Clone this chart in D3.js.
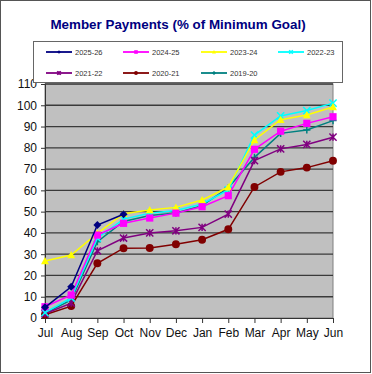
<!DOCTYPE html>
<html>
<head>
<meta charset="utf-8">
<script src="https://cdn.jsdelivr.net/npm/d3@7"></script>
<style>
  body { margin: 0; background: #fff; }
  svg { display: block; font-family: Arial, "Liberation Sans", sans-serif; }
</style>
</head>
<body>
<div id="main"></div>
<script>
const months = ['Jul','Aug','Sep','Oct','Nov','Dec','Jan','Feb','Mar','Apr','May','Jun']
const yTicks = [0,10,20,30,40,50,60,70,80,90,100,110]

const s2025 = [5, 14.7, 43.7, 48.8, null, null, null, null, null, null, null, null]
const s2024 = [5.3, 10.8, 39, 44.5, 47, 49.3, 52.3, 57.5, 79.3, 87.8, 91.5, 94.6]
const s2023 = [26.8, 29.6, 39.8, 49, 50.8, 52, 55.5, 61.5, 83.7, 93.2, 95.4, 99.2]
const s2022 = [2.5, 9.4, 37.5, 46.5, 49.2, 50.5, 53.6, 60.2, 86, 95, 97.5, 101]
const s2021 = [2, 7, 31.6, 37.6, 40, 41, 42.6, 48.8, 74, 79.5, 81.6, 85]
const s2020 = [1.5, 5.6, 25.7, 32.8, 32.9, 34.7, 36.8, 41.7, 61.6, 68.7, 70.7, 73.9]
const s2019 = [2.2, 8.5, 35.9, 45.4, 48.2, 49.4, 52.8, 61.2, 75.5, 86.8, 88.4, 92.8]

const series = [
  {name: '2025-26', values: s2025, color: '#000080', marker: 'diamond'},
  {name: '2024-25', values: s2024, color: '#ff00ff', marker: 'square'},
  {name: '2023-24', values: s2023, color: '#ffff00', marker: 'triangle'},
  {name: '2022-23', values: s2022, color: '#00ffff', marker: 'x'},
  {name: '2021-22', values: s2021, color: '#800080', marker: 'star'},
  {name: '2020-21', values: s2020, color: '#800000', marker: 'circle'},
  {name: '2019-20', values: s2019, color: '#008080', marker: 'plus'}
]

const W = 372, H = 374
const svg = d3.select('#main').append('svg').attr('width', W).attr('height', H)

svg.append('rect').attr('x', 0.5).attr('y', 0.5).attr('width', W - 2).attr('height', H - 2)
  .attr('fill', '#fff').attr('stroke', '#555')

svg.append('text').attr('x', 178).attr('y', 29).attr('text-anchor', 'middle')
  .attr('fill', '#000080').attr('font-weight', 'bold').attr('font-size', 13.4)
  .text('Member Payments (% of Minimum Goal)')

const x = d3.scalePoint().domain(months).range([45, 333])
const y = d3.scaleLinear().domain([0, 110]).range([318, 84])

// plot area
svg.append('rect').attr('x', 45).attr('y', y(110)).attr('width', 333 - 45).attr('height', y(0) - y(110))
  .attr('fill', '#c0c0c0').attr('stroke', '#808080')

svg.append('g').selectAll('line').data(yTicks.slice(1)).enter().append('line')
  .attr('x1', 45).attr('x2', 333).attr('y1', d => y(d)).attr('y2', d => y(d))
  .attr('stroke', '#3a3a3a').attr('stroke-width', 1.3)

// axes
const yAxis = svg.append('g').attr('transform', 'translate(45,0)')
  .call(d3.axisLeft(y).tickValues(yTicks).tickSize(4).tickPadding(4))
yAxis.select('.domain').attr('stroke', '#333')
yAxis.selectAll('line').attr('stroke', '#333')
yAxis.selectAll('text').attr('font-size', 12).attr('fill', '#111').attr('font-family', 'Arial, "Liberation Sans", sans-serif')

const xAxis = svg.append('g').attr('transform', 'translate(0,318)')
  .call(d3.axisBottom(x).tickSize(5).tickPadding(5))
xAxis.select('.domain').attr('stroke', '#333')
xAxis.selectAll('line').attr('stroke', '#333')
xAxis.selectAll('text').attr('font-size', 12).attr('fill', '#111').attr('font-family', 'Arial, "Liberation Sans", sans-serif')

function marker(g, type, color, s) {
  if (type === 'diamond') {
    g.append('path').attr('d', `M0,${-s}L${s},0L0,${s}L${-s},0Z`).attr('fill', color)
  } else if (type === 'square') {
    g.append('rect').attr('x', -s).attr('y', -s).attr('width', 2 * s).attr('height', 2 * s).attr('fill', color)
  } else if (type === 'triangle') {
    g.append('path').attr('d', `M0,${-s * 1.1}L${s * 1.1},${s * 0.9}L${-s * 1.1},${s * 0.9}Z`).attr('fill', color)
  } else if (type === 'circle') {
    g.append('circle').attr('r', s * 1.1).attr('fill', color)
  } else if (type === 'x') {
    g.append('path').attr('d', `M${-s},${-s}L${s},${s}M${s},${-s}L${-s},${s}`)
      .attr('stroke', color).attr('stroke-width', 1.5)
  } else if (type === 'star') {
    g.append('path').attr('d', `M${-s},${-s}L${s},${s}M${s},${-s}L${-s},${s}M0,${-s}L0,${s}`)
      .attr('stroke', color).attr('stroke-width', 1.5)
  } else if (type === 'plus') {
    g.append('path').attr('d', `M${-s},0L${s},0M0,${-s}L0,${s}`)
      .attr('stroke', color).attr('stroke-width', 1.5)
  }
}

const line = d3.line()
  .defined(d => d.v !== null)
  .x(d => x(d.m))
  .y(d => y(d.v))

// draw oldest first so current year sits on top
series.slice().reverse().forEach(sr => {
  const pts = sr.values.map((v, i) => ({m: months[i], v: v}))
  svg.append('path').datum(pts).attr('d', line)
    .attr('fill', 'none').attr('stroke', sr.color).attr('stroke-width', 1.5)
  const mg = svg.append('g')
  pts.filter(d => d.v !== null).forEach(d => {
    const g = mg.append('g').attr('transform', `translate(${x(d.m)},${y(d.v)})`)
    marker(g, sr.marker, sr.color, sr.marker === 'diamond' ? 4 : 3.6)
  })
})

// legend
const legend = svg.append('g').attr('id', 'legend')
legend.append('rect').attr('x', 33.5).attr('y', 41.5).attr('width', 309).attr('height', 41)
  .attr('fill', '#fff').attr('stroke', '#666')
const cols = [46, 123, 201, 278], rows = [52, 73]
series.forEach((sr, i) => {
  const lx = cols[i % 4], ly = rows[Math.floor(i / 4)]
  const g = legend.append('g').attr('transform', `translate(${lx},${ly})`)
  g.append('line').attr('x1', 0).attr('x2', 26).attr('y1', 0).attr('y2', 0)
    .attr('stroke', sr.color).attr('stroke-width', 1.8)
  const mk = g.append('g').attr('transform', 'translate(13,0)')
  marker(mk, sr.marker, sr.color, 1.8)
  g.append('text').attr('x', 29).attr('y', 3).attr('font-size', 7.5).attr('fill', '#333').text(sr.name)
})
</script>
</body>
</html>
